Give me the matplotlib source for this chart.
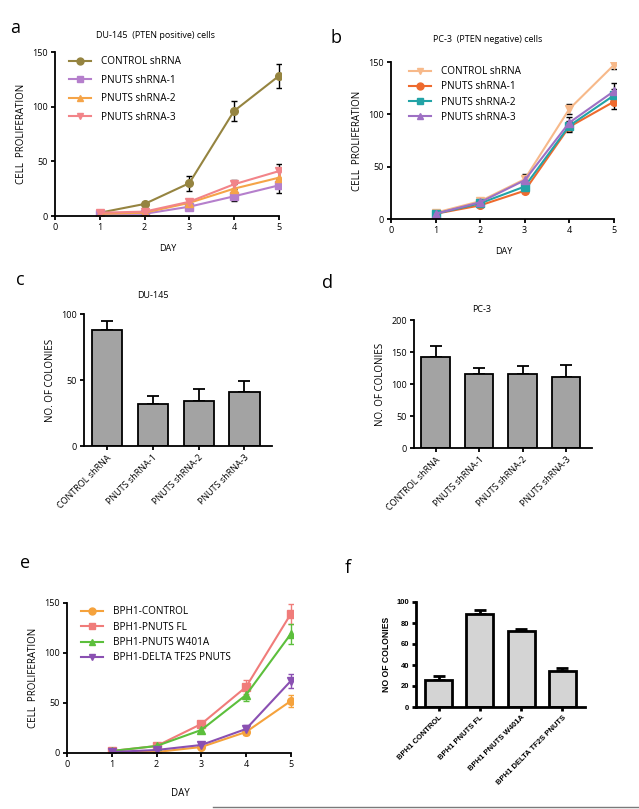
import matplotlib
matplotlib.use("Agg")
import matplotlib.pyplot as plt
from matplotlib.lines import Line2D
import numpy as np

plt.rcParams['font.family'] = ['Open Sans', 'DejaVu Sans']

W, H = 639, 809
fig = plt.figure(figsize=(W/100, H/100), dpi=100)

def px_axes(l, t, r, b):
    return fig.add_axes([l/W, 1-b/H, (r-l)/W, (b-t)/H])

def style(ax, lw=1.3):
    for s in ['top', 'right']:
        ax.spines[s].set_visible(False)
    for s in ['left', 'bottom']:
        ax.spines[s].set_linewidth(lw)
    ax.tick_params(width=lw, length=3, labelsize=6.5, pad=2)

days = [1, 2, 3, 4, 5]

# panel a: DU-145
a_labels = ['CONTROL shRNA', 'PNUTS shRNA-1', 'PNUTS shRNA-2', 'PNUTS shRNA-3']
a_vals = [[3, 11, 30, 96, 128],
          [2, 2, 8.5, 18, 28],
          [2, 3, 12, 25, 35],
          [3, 4, 13, 29, 41]]
a_err = [[1, 2, 7, 9, 11],
         [1, 1, 3, 4, 7],
         [1, 1, 3, 4, 6],
         [1, 1, 3, 4, 7]]
a_colors = ['#958440', '#b57fcc', '#f5a448', '#f28489']
a_markers = ['o', 's', '^', 'v']

# panel b: PC-3
b_labels = ['CONTROL shRNA', 'PNUTS shRNA-1', 'PNUTS shRNA-2', 'PNUTS shRNA-3']
b_vals = [[6, 17, 38, 105, 147],
          [5, 13, 27, 88, 112],
          [5, 15, 31, 89, 118],
          [5, 16, 37, 92, 122]]
b_err = [[1, 2, 5, 5, 4],
         [1, 2, 2, 5, 7],
         [1, 2, 3, 5, 6],
         [1, 2, 4, 5, 8]]
b_colors = ['#f7b98a', '#ee6a2e', '#22a3a6', '#9e70c4']
b_markers = ['v', 'o', 's', '^']

# panel c / d: colonies
cd_labels = ['CONTROL shRNA', 'PNUTS shRNA-1', 'PNUTS shRNA-2', 'PNUTS shRNA-3']
c_vals = [88, 32, 34, 41]
c_err = [7, 6, 9, 8]
d_vals = [142, 116, 115, 111]
d_err = [18, 9, 13, 19]

# panel e: BPH1
e_labels = ['BPH1-CONTROL', 'BPH1-PNUTS FL', 'BPH1-PNUTS W401A', 'BPH1-DELTA TF2S PNUTS']
e_vals = [[1, 1, 6, 21, 52],
          [2, 7, 29, 66, 139],
          [2, 7, 23, 58, 119],
          [1, 3, 8, 24, 72]]
e_err = [[1, 1, 1, 3, 6],
         [1, 1, 3, 7, 10],
         [1, 1, 2, 6, 10],
         [1, 1, 2, 4, 7]]
e_colors = ['#f5a23c', '#f07c7a', '#5cbf3c', '#8a50b2']
e_markers = ['o', 's', '^', 'v']

# panel f
f_labels = ['BPH1 CONTROL', 'BPH1 PNUTS FL', 'BPH1 PNUTS W401A', 'BPH1 DELTA TF2S PNUTS']
f_vals = [26, 89, 72, 34]
f_err = [4, 3, 2, 3]


def line_panel(ax, vals, err, colors, markers, labels, ecolor=None, legend_pos=(0.03, 1.02), spacing=1.0):
    handles = []
    for v, e, c, m, lab in zip(vals, err, colors, markers, labels):
        ec = ecolor if ecolor else c
        ax.errorbar(days, v, yerr=e, color=c, marker=m, markersize=5.5, lw=1.5,
                    ecolor=ec, elinewidth=1, capsize=2, capthick=1)
        handles.append(Line2D([], [], color=c, marker=m, markersize=5, lw=1.5, label=lab))
    style(ax)
    ax.set_xlim(0, 5.05)
    ax.set_ylim(0, 150)
    ax.set_xticks([0, 1, 2, 3, 4, 5])
    ax.set_yticks([0, 50, 100, 150])
    ax.spines['left'].set_bounds(0, 150)
    ax.spines['bottom'].set_bounds(0, 5)
    ax.set_ylabel('CELL  PROLIFERATION', fontsize=7, labelpad=4)
    ax.legend(handles=handles, loc='upper left', bbox_to_anchor=legend_pos, frameon=False,
              fontsize=7.2, handlelength=2.2, handletextpad=1.0,
              labelspacing=spacing)

# a
ax = px_axes(55, 52, 281, 216)
line_panel(ax, a_vals, a_err, a_colors, a_markers, a_labels, ecolor='black',
           legend_pos=(0.02, 1.03), spacing=0.75)
ax.set_xlabel('DAY', fontsize=6.5, labelpad=9)
fig.text(156/W, 1-36/H, 'DU-145  (PTEN positive) cells', fontsize=6.5, ha='center', va='center')
fig.text(10/W, 1-28/H, 'a', fontsize=13, ha='left', va='center')

# b
ax = px_axes(391, 62, 616, 219)
line_panel(ax, b_vals, b_err, b_colors, b_markers, b_labels, ecolor='black',
           legend_pos=(0.04, 1.03), spacing=0.42)
ax.set_xlabel('DAY', fontsize=6.5, labelpad=9)
fig.text(488/W, 1-39/H, 'PC-3  (PTEN negative) cells', fontsize=6.5, ha='center', va='center')
fig.text(330/W, 1-38/H, 'b', fontsize=13, ha='left', va='center')

# c
def bar_panel(ax, vals, err, labels, ylim, yticks, ylabel, face='#a3a3a3', lw=1.3, fs=6.5):
    x = np.arange(len(vals))
    ax.bar(x, vals, width=0.66, color=face, edgecolor='black', linewidth=lw, zorder=2)
    ax.errorbar(x, vals, yerr=[np.zeros(len(err)), err], fmt='none', ecolor='black',
                elinewidth=lw, capsize=4, capthick=lw, zorder=1)
    style(ax, lw)
    ax.set_xlim(-0.5, 3.6)
    ax.set_ylim(*ylim)
    ax.set_yticks(yticks)
    ax.set_xticks(x)
    ax.set_xticklabels(labels, rotation=45, ha='right', rotation_mode='anchor', fontsize=fs)
    ax.set_ylabel(ylabel, fontsize=7, labelpad=4)

ax = px_axes(84, 314, 272, 446)
bar_panel(ax, c_vals, c_err, cd_labels, (0, 100), [0, 50, 100], 'NO. OF COLONIES')
fig.text(153/W, 1-295/H, 'DU-145', fontsize=6.5, ha='center', va='center')
fig.text(16/W, 1-280/H, 'c', fontsize=13, ha='left', va='center')

# d
ax = px_axes(414, 320, 592, 448)
bar_panel(ax, d_vals, d_err, cd_labels, (0, 200), [0, 50, 100, 150, 200], 'NO. OF COLONIES')
fig.text(482/W, 1-309/H, 'PC-3', fontsize=6.5, ha='center', va='center')
fig.text(322/W, 1-283/H, 'd', fontsize=13, ha='left', va='center')

# e
ax = px_axes(67, 603, 293, 753)
line_panel(ax, e_vals, e_err, e_colors, e_markers, e_labels,
           legend_pos=(0.02, 1.04), spacing=0.45)
ax.set_xlabel('DAY', fontsize=7, labelpad=14)
fig.text(20/W, 1-563/H, 'e', fontsize=13, ha='left', va='center')

# f
ax = px_axes(416, 602, 585, 707)
bar_panel(ax, f_vals, f_err, f_labels, (0, 100), [0, 20, 40, 60, 80, 100], 'NO OF COLONIES',
          face='#d4d4d4', lw=2, fs=5.5)
ax.set_xlim(-0.55, 3.55)
for t in ax.get_xticklabels() + ax.get_yticklabels():
    t.set_fontfamily('Liberation Sans')
    t.set_fontweight('bold')
ax.tick_params(labelsize=5.5)
ax.yaxis.label.set_fontfamily('Liberation Sans')
ax.yaxis.label.set_fontweight('bold')
ax.yaxis.label.set_fontsize(6.2)
fig.text(345/W, 1-568/H, 'f', fontsize=13, ha='left', va='center')

# bottom rule
fig.add_artist(Line2D([213/W, 1], [1-807/H, 1-807/H], color='#7a7a7a', lw=1))

fig.savefig('out.png', dpi=100)
